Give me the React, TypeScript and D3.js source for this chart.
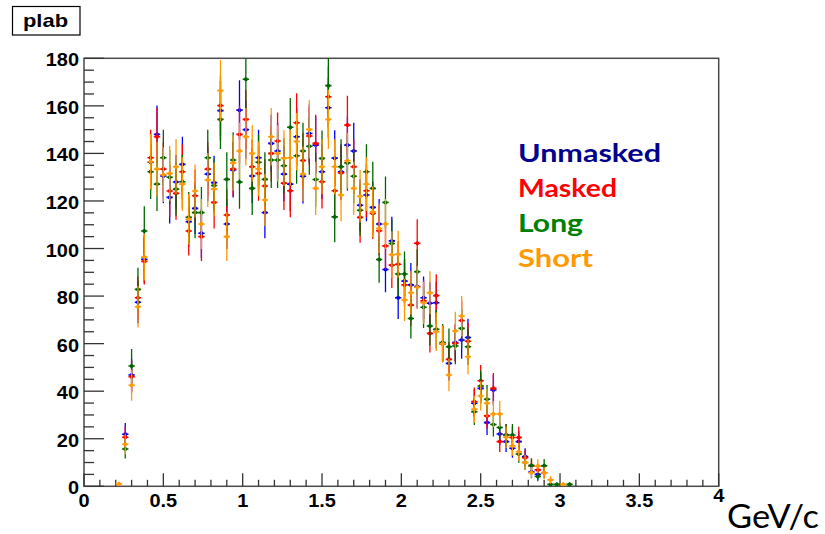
import React from "react";
import * as d3 from "d3";

const binCenters = [
  0.22, 0.26, 0.30, 0.34, 0.38, 0.42, 0.46, 0.50, 0.54, 0.58, 0.62, 0.66, 0.70, 0.74, 0.78, 0.82,
  0.86, 0.90, 0.94, 0.98, 1.02, 1.06, 1.10, 1.14, 1.18, 1.22, 1.26, 1.30, 1.34, 1.38, 1.42, 1.46,
  1.50, 1.54, 1.58, 1.62, 1.66, 1.70, 1.74, 1.78, 1.82, 1.86, 1.90, 1.94, 1.98, 2.02, 2.06, 2.10,
  2.14, 2.18, 2.22, 2.26, 2.30, 2.34, 2.38, 2.42, 2.46, 2.50, 2.54, 2.58, 2.62, 2.66, 2.70, 2.74,
  2.78, 2.82, 2.86, 2.90, 2.94, 2.98, 3.02, 3.06,
];

const unmasked = [
  null, 21.9, 46.8, 77.4, 95.5, 136.3, 148.0, 130.5, 121.5, 128.0, 135.4, 111.3, 116.9, 106.4, 131.3, 127.7,
  158.0, 110.3, 133.0, 158.2, 150.0, 130.5, 138.2, 115.1, 144.2, 141.0, 131.3, 127.1, 147.0, 130.4, 148.4, 143.5,
  132.3, 159.2, 138.0, 132.3, 143.5, 141.0, 118.2, 122.5, 117.3, 110.3, 91.2, 103.2, 79.3, 86.3, 84.7, 84.0,
  79.3, 77.0, 77.2, 59.9, 51.7, 60.5, 61.5, 62.6, 34.9, 41.2, 26.8, 40.5, 22.0, 18.8, 16.0, 18.8,
  12.5, 6.0, 5.0, null, null, null, null, null,
];

const masked = [
  null, 20.6, 46.1, 79.3, 94.6, 138.2, 147.0, 133.4, 124.2, 123.2, 132.3, 107.4, 122.2, 105.0, 133.4, 119.4,
  160.1, 114.1, 133.4, 148.0, 154.3, 134.4, 131.6, 126.3, 140.0, 145.2, 127.5, 124.3, 152.9, 137.0, 147.3, 144.2,
  128.1, 163.8, 124.3, 131.8, 151.9, 134.4, 113.1, 124.3, 114.7, 107.5, 101.1, 93.0, 93.4, 84.7, 76.2, 102.2,
  78.0, 64.3, 80.2, 60.1, 53.4, 60.1, 69.7, 61.0, 35.6, 44.4, 29.6, 41.2, 18.8, 21.6, 20.5, 20.5,
  12.0, 8.7, 6.9, 5.7, null, null, null, null,
];

const longSel = [
  null, 15.7, 50.6, 82.8, 107.4, 132.3, 127.1, 138.2, 130.0, 125.0, 128.1, 113.1, 115.1, 115.1, 138.2, 126.5,
  154.3, 129.1, 137.2, 128.0, 171.2, 125.3, 136.3, 129.1, 137.2, 137.2, 134.8, 151.0, 139.0, 141.0, 143.0, 129.0,
  137.9, 168.5, 113.3, 134.4, 136.0, 130.4, 116.1, 132.3, 125.3, 95.4, 119.4, 102.1, 89.3, 89.3, 70.6, 90.2,
  75.3, 67.4, 66.0, 60.5, 58.7, 59.0, 66.4, 58.7, 31.4, 42.2, 36.6, 26.0, 24.7, 21.6, 21.6, 13.6,
  10.0, 8.7, 4.1, 8.6, 0.8, 0.8, null, 0.8,
];

const shortSel = [
  1.0, 17.7, 42.5, 75.5, 96.4, 136.5, 133.4, 131.0, 131.6, 134.4, 127.1, 112.3, 124.2, 110.3, 128.8, 125.0,
  166.4, 105.0, 136.0, 141.0, 147.0, 140.0, 133.5, 120.4, 147.0, 140.0, 138.0, 138.2, 145.0, 131.3, 150.1, 125.3,
  134.4, 154.3, 134.4, 122.5, 136.9, 125.3, 122.0, 127.1, 115.4, 108.4, 110.3, 97.4, 97.6, 78.4, 81.4, 83.7,
  77.2, 81.4, 65.0, 59.9, 46.8, 65.3, 71.6, 54.5, 32.4, 38.0, 34.9, 30.4, 30.4, 20.6, 17.0, 14.5,
  10.0, 5.7, 8.5, 5.7, 2.7, null, 0.8, null,
];

const seriesNames = ["Unmasked", "Masked", "Long", "Short"];
const seriesValues = [unmasked, masked, longSel, shortSel];
const markerColors = ["#0000ff", "#ff0000", "#006600", "#ff9900"];
const legendColors = ["#00008c", "#ff0000", "#008000", "#ff9900"];
const legendWidths = [143, 99, 65, 75];

const yTickValues = [0, 20, 40, 60, 80, 100, 120, 140, 160, 180];
const xTickValues = [0, 0.5, 1, 1.5, 2, 2.5, 3, 3.5, 4];
const xTickLabels = ["0", "0.5", "1", "1.5", "2", "2.5", "3", "3.5", "4"];

const W = 825;
const H = 534;
const L = 84;
const R = 718.7;
const T = 58.3;
const B = 486.3;

export default function App() {
  const x = d3.scaleLinear().domain([0, 4]).range([L, R]);
  const y = d3.scaleLinear().domain([0, 180]).range([B, T]);
  const yMinor = d3.range(0, 181, 5);
  const xMinor = d3.range(0, 4.0001, 0.1);
  const halfBin = 0.02;
  const tickFont = "'Liberation Sans', Arial, sans-serif";
  const axisColor = "#4a4a4a";

  return (
    <svg
      width={W}
      height={H}
      style={{ position: "absolute", left: 0, top: 0, background: "#fff" }}
    >
      <rect x={0} y={0} width={W} height={H} fill="#fff" />
      <defs>
        <clipPath id="frameClip">
          <rect x={L} y={T} width={R - L} height={B - T} />
        </clipPath>
      </defs>

      {/* frame */}
      <rect x={L} y={T} width={R - L} height={B - T} fill="none" stroke={axisColor} strokeWidth={1.5} />

      {/* y ticks */}
      {yMinor.map((v) => {
        const major = v % 20 === 0;
        return (
          <line
            key={"ym" + v}
            x1={L}
            x2={L + (major ? 20 : 10)}
            y1={y(v)}
            y2={y(v)}
            stroke="#333"
            strokeWidth={1.3}
          />
        );
      })}
      {yTickValues.map((v) => (
        <text
          key={"yl" + v}
          transform={`translate(79,${y(v) + 8}) scale(1.05,1)`}
          textAnchor="end"
          fontFamily={tickFont}
          fontWeight="bold"
          fontSize={19}
          fill="#000"
        >
          {v}
        </text>
      ))}

      {/* x ticks */}
      {xMinor.map((v, i) => {
        const major = i % 5 === 0;
        return (
          <line
            key={"xm" + i}
            x1={x(v)}
            x2={x(v)}
            y1={B}
            y2={B - (major ? 13 : 6.5)}
            stroke="#333"
            strokeWidth={1.3}
          />
        );
      })}
      {xTickValues.map((v, i) => (
        <text
          key={"xl" + i}
          transform={`translate(${x(v)},${i === xTickValues.length - 1 ? 502 : 507}) scale(1.05,1)`}
          textAnchor="middle"
          fontFamily={tickFont}
          fontWeight="bold"
          fontSize={19}
          fill="#000"
        >
          {xTickLabels[i]}
        </text>
      ))}

      {/* axis title */}
      <text
        x={727}
        y={528}
        fontFamily="Lato, 'Open Sans', sans-serif"
        fontSize={33}
        textLength={92}
        lengthAdjust="spacingAndGlyphs"
        fill="#000"
      >
        GeV/c
      </text>

      {/* data */}
      <g clipPath="url(#frameClip)">
        {seriesValues.map((vals, s) => (
          <g key={"s" + s}>
            {vals.map((v, i) => {
              if (v === null || v === undefined) return null;
              const c = binCenters[i];
              const e = Math.sqrt(v);
              const cx = x(c);
              const cy = y(v);
              const col = markerColors[s];
              return (
                <g key={"p" + s + "_" + i}>
                  <line x1={cx} x2={cx} y1={y(v - e)} y2={y(v + e)} stroke={col} strokeWidth={1.3} />
                  <line x1={x(c - halfBin)} x2={x(c + halfBin)} y1={cy} y2={cy} stroke={col} strokeWidth={1.6} />
                  <circle cx={cx} cy={cy} r={2} fill={col} />
                </g>
              );
            })}
          </g>
        ))}
      </g>

      {/* legend */}
      {seriesNames.map((n, i) => (
        <text
          key={"lg" + n}
          x={518}
          y={161.5 + i * 35}
          fontFamily="Lato, 'Open Sans', sans-serif"
          fontWeight="bold"
          fontSize={25.5}
          textLength={legendWidths[i]}
          lengthAdjust="spacingAndGlyphs"
          fill={legendColors[i]}
        >
          {n}
        </text>
      ))}

      {/* title box */}
      <rect x={12.5} y={6.5} width={67.5} height={28.5} fill="#fff" stroke="#000" strokeWidth={1.2} />
      <text
        x={23}
        y={26.5}
        fontFamily={tickFont}
        fontWeight="bold"
        fontSize={18.5}
        textLength={45}
        lengthAdjust="spacingAndGlyphs"
        fill="#000"
      >
        plab
      </text>
    </svg>
  );
}
